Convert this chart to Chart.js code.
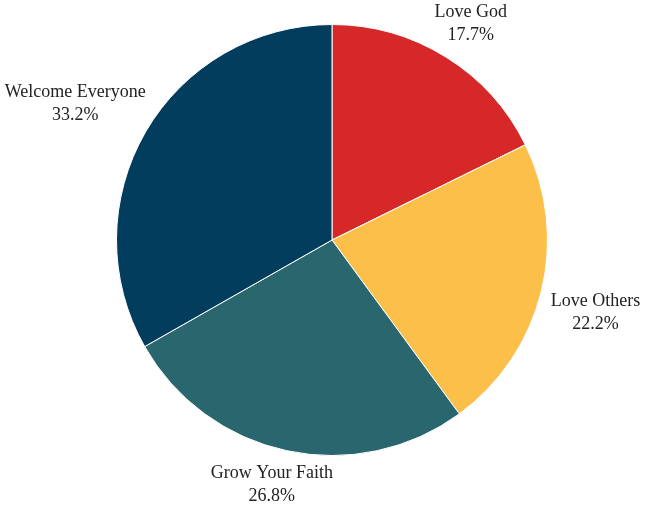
<!DOCTYPE html>
<html>
<head>
<meta charset="utf-8">
<script src="https://cdn.jsdelivr.net/npm/chart.js@4"></script>
<style>
  html, body { margin: 0; padding: 0; background: #fff; }
  #wrap { width: 657px; height: 506px; }
</style>
</head>
<body>
<div id="wrap"><canvas id="pie"></canvas></div>
<script>
const categories = ['Love God', 'Love Others', 'Grow Your Faith', 'Welcome Everyone'];
const shares = [17.7, 22.2, 26.8, 33.2];
const colors = ['#D62828', '#FCBF49', '#2A666E', '#033D5E'];

const labelFont = '18px "Liberation Serif", serif';
const lineGap = 23;

// draws name + percent outside each slice
const outsideLabels = {
    id: 'outsideLabels',
    afterDatasetsDraw(chart) {
        const ctx = chart.ctx;
        const meta = chart.getDatasetMeta(0);
        ctx.save();
        ctx.font = labelFont;
        ctx.fillStyle = '#222';
        ctx.textAlign = 'center';
        ctx.textBaseline = 'middle';
        meta.data.forEach((arc, i) => {
            const p = arc.getProps(['x', 'y', 'startAngle', 'endAngle', 'outerRadius']);
            const mid = (p.startAngle + p.endAngle) / 2;
            const lines = [categories[i], shares[i].toFixed(1) + '%'];
            const w = Math.max(...lines.map(t => ctx.measureText(t).width));
            const h = lineGap * 2;
            const r = p.outerRadius + 11;
            const cosA = Math.cos(mid), sinA = Math.sin(mid);
            const cx = p.x + cosA * (r + w / 2);
            // side labels sit a bit further out vertically
            const cy = p.y + sinA * (r + h / 2) + Math.sign(sinA) * 14 * cosA * cosA;
            ctx.fillText(lines[0], cx, cy - lineGap / 2);
            ctx.fillText(lines[1], cx, cy + lineGap / 2);
        });
        ctx.restore();
    }
};

new Chart(document.getElementById('pie'), {
    type: 'pie',
    data: {
        labels: categories,
        datasets: [{
            data: shares,
            backgroundColor: colors,
            borderColor: '#ffffff',
            borderWidth: 1
        }]
    },
    options: {
        responsive: true,
        maintainAspectRatio: false,
        animation: false,
        layout: { padding: { top: 24, bottom: 50, left: 7, right: 0 } },
        plugins: {
            legend: { display: false },
            tooltip: { enabled: false }
        }
    },
    plugins: [outsideLabels]
});
</script>
</body>
</html>
